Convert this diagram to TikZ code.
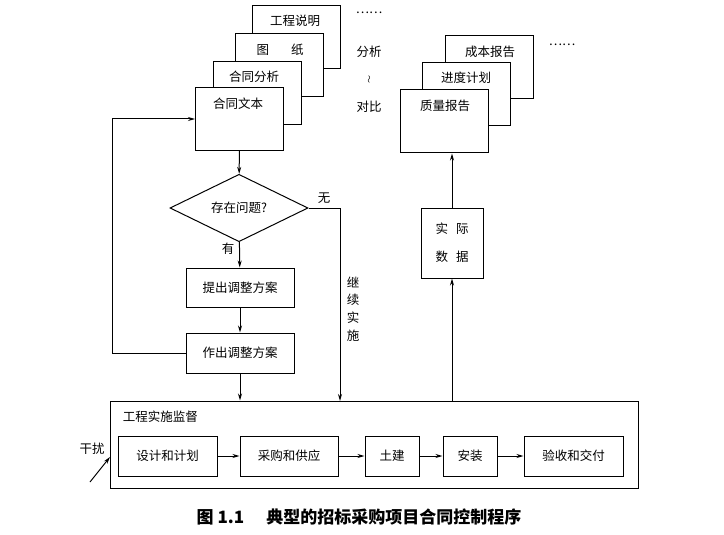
\documentclass[tikz,border=0pt]{standalone}
\usepackage{fontspec}
\newfontfamily\cjk{Noto Sans CJK SC}
\usetikzlibrary{shapes.geometric,arrows.meta}

\begin{document}
\begin{tikzpicture}
			[x=1pt,y=-1pt,font=\cjk\fontsize{12.5}{15}\selectfont,
			line width=1pt,>={Stealth[length=7pt,width=4pt]},
			box/.style={rectangle,draw,fill=white,inner sep=0pt},
			doc/.style={box,minimum width=88pt,minimum height=63pt},
			decision/.style={diamond,draw,inner sep=0pt,minimum width=138pt,minimum height=52pt}]

			\useasboundingbox (0,0) rectangle (724,535);

			% contract documents
			\node[doc] (sm) at (296,37.5) {};
			\node[doc] (tz) at (279,65) {};
			\node[doc] (fx) at (257,93.5) {};
			\node[doc] (wb) at (239.5,119) {};
			\node (smt) at (295,21) {工程说明};
			\node (tzt) at (280,50) {图\hspace{22pt}纸};
			\node (fxt) at (254,77) {合同分析};
			\node (wbt) at (238,104) {合同文本};

			\node (dl) at (369,13) {……};
			\node (fxa) at (369,52) {分析};
			\node[rotate=90,font=\cjk\fontsize{8}{10}\selectfont] (til) at (370,80) {～};
			\node (db) at (369,107) {对比};

			% reports
			\node[doc] (cb) at (489,67.5) {};
			\node[doc] (jh) at (466.5,94.5) {};
			\node[doc] (zl) at (444.5,121.5) {};
			\node (cbt) at (490,52) {成本报告};
			\node (jht) at (466,78) {进度计划};
			\node (zlt) at (445,106) {质量报告};
			\node (dr) at (562,45) {……};

			% check loop
			\node[decision] (q) at (239,208) {存在问题?};
			\node[box,minimum width=108pt,minimum height=39pt] (tc) at (240,287.5) {提出调整方案};
			\node[box,minimum width=108pt,minimum height=40pt] (zc) at (240,353) {作出调整方案};
			\node (you) at (228,249) {有};
			\node (wu) at (324,198) {无};
			\node[align=center,font=\cjk\fontsize{12.5}{17.7}\selectfont] (jx) at (353,309) {继\\续\\实\\施};

			\node[box,minimum width=62pt,minimum height=70pt,align=center] (sj) at (452,243) {实\hspace{8pt}际\\[13pt]数\hspace{8pt}据};

			% supervision
			\node[box,fill=none,minimum width=528pt,minimum height=87pt] (jd) at (374,444.5) {};
			\node[anchor=west] (jdt) at (119,417) {工程实施监督};
			\node[box,minimum width=99pt,minimum height=40pt] (sj1) at (167.5,456) {设计和计划};
			\node[box,minimum width=98pt,minimum height=40pt] (cg) at (289,456) {采购和供应};
			\node[box,minimum width=54pt,minimum height=40pt] (tj) at (392,456) {土建};
			\node[box,minimum width=54pt,minimum height=40pt] (az) at (470,456) {安装};
			\node[box,minimum width=99pt,minimum height=40pt] (ys) at (573.5,456) {验收和交付};
			\node (gr) at (92,449) {干扰};
			\coordinate (grs) at (90,482);
			\coordinate (gre) at (110,457);
			\coordinate (go) at (340,401);

			\node[font=\cjk\bfseries\fontsize{17}{19}\selectfont] (cap) at (359,517) {图 1.1\hspace{1.3em}典型的招标采购项目合同控制程序};

			\draw[->] (wb) -- (q);
			\draw[->] (q) -- (tc);
			\draw[->] (tc) -- (zc);
			\draw[->] (zc) -- (zc.south |- jd.north);
			\draw[->] (zc.west) -- ++(-73,0) |- (wb.west);
			\draw[->] (q.east) -| (go);
			\draw[->] (sj.south |- jd.north) -- (sj.south);
			\draw[->] (sj.north) -- (sj.north |- zl.south);
			\draw[->] (sj1) -- (cg);
			\draw[->] (cg) -- (tj);
			\draw[->] (tj) -- (az);
			\draw[->] (az) -- (ys);
			\draw[->] (grs) -- (gre);
		\end{tikzpicture}
\end{document}
